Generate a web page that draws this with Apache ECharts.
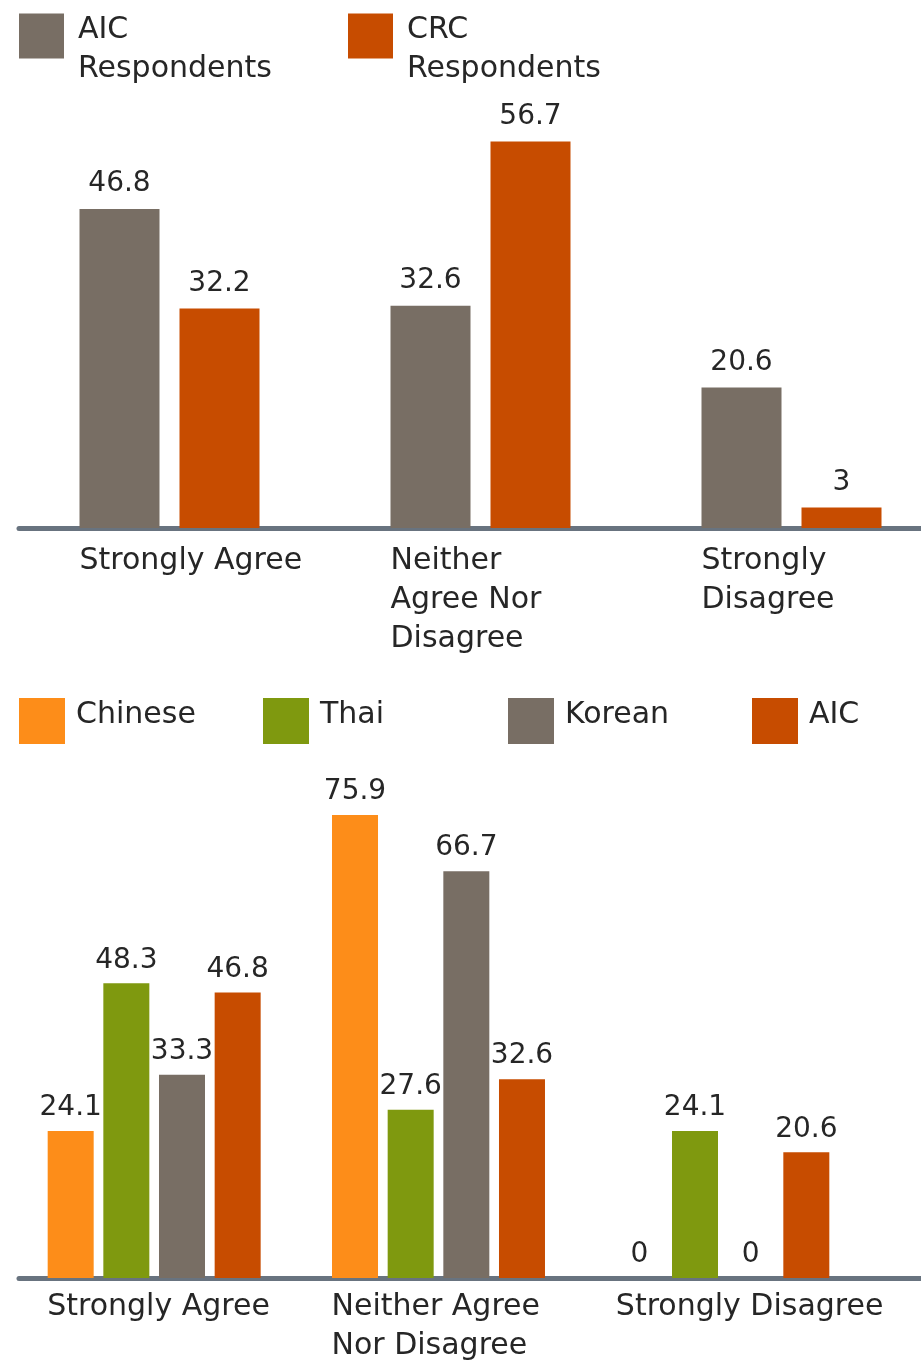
<!DOCTYPE html>
<html><head><meta charset="utf-8">
<script src="https://cdn.jsdelivr.net/npm/echarts@6/dist/echarts.min.js"></script>
<style>html,body{margin:0;padding:0;background:#fff}#c{width:921px;height:1365px}</style>
</head><body><div id="c"></div>
<script>
// ---- data ----
const topCategories = ['Strongly Agree', 'Neither\nAgree Nor\nDisagree', 'Strongly\nDisagree'];
const topSeriesNames = ['AIC Respondents', 'CRC Respondents'];
const topAIC = [46.8, 32.6, 20.6];
const topCRC = [32.2, 56.7, 3];

const botCategories = ['Strongly Agree', 'Neither Agree\nNor Disagree', 'Strongly Disagree'];
const botSeriesNames = ['Chinese', 'Thai', 'Korean', 'AIC'];
const chinese = [24.1, 75.9, 0];
const thai = [48.3, 27.6, 24.1];
const korean = [33.3, 66.7, 0];
const aic = [46.8, 32.6, 20.6];

// ---- style ----
const FONT = 'DejaVu Sans';
const TXT = '#262626';
const GRAY = '#786e64', RED = '#c74c00', ORANGE = '#fd8d19', GREEN = '#7f990f';
const AXIS = '#68737f';

const richFmt = v => v.split('\n').map(s => '{a|' + s + '}').join('\n');

function barSeries(name, data, color, xi, bw, gap, dist) {
  return {
    type: 'bar', name, data, xAxisIndex: xi, yAxisIndex: xi,
    barWidth: bw, barGap: gap, itemStyle: { color },
    label: { show: true, position: 'top', distance: dist, fontSize: 28, color: TXT, fontFamily: FONT }
  };
}

const topLegendLeft = [19, 348];
const botLegendLeft = [19, 263, 508, 752];
const legRich = {
  a: { fontSize: 30, lineHeight: 39, color: TXT, fontFamily: FONT },
  b: { fontSize: 30, lineHeight: 35, color: TXT, fontFamily: FONT },
  s: { fontSize: 8, lineHeight: 28 },
  t: { fontSize: 8, lineHeight: 12 }
};

const legends = [];
topSeriesNames.forEach((n, i) => legends.push({
  data: [n], left: topLegendLeft[i], top: -7, padding: 0,
  itemWidth: 45, itemHeight: 45, icon: 'rect',
  formatter: s => '{s| }\n' + s.split(' ').map(p => '{a|' + p + '}').join('\n'),
  textStyle: { padding: [0, 0, 0, 9], rich: legRich }
}));
botSeriesNames.forEach((n, i) => legends.push({
  data: [n], left: botLegendLeft[i], top: 698, padding: 0,
  itemWidth: 46, itemHeight: 46, icon: 'rect',
  formatter: s => '{b|' + s + '}\n{t| }',
  textStyle: { padding: [0, 0, 0, 6], rich: legRich }
}));

const chart = echarts.init(document.getElementById('c'), null, { renderer: 'canvas' });
chart.setOption({
  animation: false,
  backgroundColor: '#ffffff',
  textStyle: { fontFamily: FONT },
  legend: legends,
  grid: [
    { left: 14, width: 933, top: 119, bottom: 837, outerBoundsMode: 'none' },
    { left: 12, right: 56, top: 790, bottom: 87, outerBoundsMode: 'none' },
    { left: 19, right: 0, top: 119, bottom: 837, outerBoundsMode: 'none' },
    { left: 19, right: 0, top: 790, bottom: 87, outerBoundsMode: 'none' }
  ],
  xAxis: [
    { type: 'category', gridIndex: 0, data: topCategories, axisLine: { show: false }, axisTick: { show: false },
      axisLabel: { interval: 0, margin: 14, formatter: richFmt, rich: { a: { width: 180, align: 'left', fontSize: 30, lineHeight: 39, color: TXT, fontFamily: FONT } } } },
    { type: 'category', gridIndex: 1, data: botCategories, axisLine: { show: false }, axisTick: { show: false },
      axisLabel: { interval: 0, margin: 10, formatter: richFmt, rich: { a: { width: 214, align: 'left', fontSize: 30, lineHeight: 39, color: TXT, fontFamily: FONT } } } },
    { type: 'category', gridIndex: 2, data: [''], axisLine: { lineStyle: { color: AXIS, width: 5 } }, axisTick: { show: false }, axisLabel: { show: false } },
    { type: 'category', gridIndex: 3, data: [''], axisLine: { lineStyle: { color: AXIS, width: 5 } }, axisTick: { show: false }, axisLabel: { show: false } }
  ],
  yAxis: [
    { type: 'value', gridIndex: 0, min: 0, max: 60, show: false },
    { type: 'value', gridIndex: 1, min: 0, max: 80, show: false },
    { type: 'value', gridIndex: 2, min: 0, max: 1, show: false },
    { type: 'value', gridIndex: 3, min: 0, max: 1, show: false }
  ],
  series: [
    barSeries(topSeriesNames[0], topAIC, GRAY, 0, 80, '25%', 11),
    barSeries(topSeriesNames[1], topCRC, RED, 0, 80, '25%', 11),
    barSeries(botSeriesNames[0], chinese, ORANGE, 1, 46, '21%', 9),
    barSeries(botSeriesNames[1], thai, GREEN, 1, 46, '21%', 9),
    barSeries(botSeriesNames[2], korean, GRAY, 1, 46, '21%', 9),
    barSeries(botSeriesNames[3], aic, RED, 1, 46, '21%', 9)
  ]
});
</script>
</body></html>
